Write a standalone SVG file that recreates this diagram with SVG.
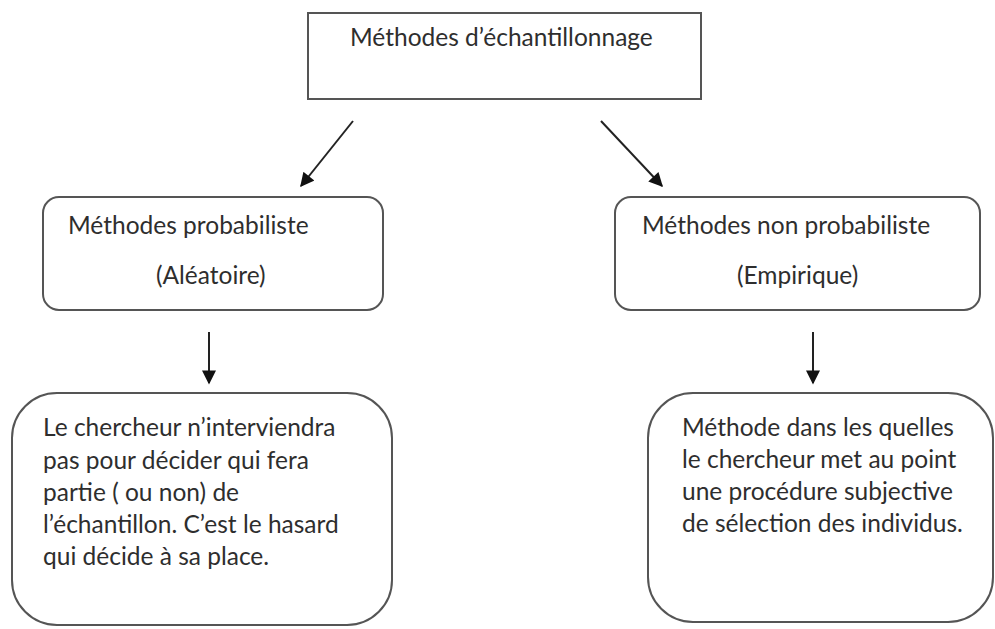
<svg xmlns="http://www.w3.org/2000/svg" width="995" height="629" viewBox="0 0 995 629">
<defs>
<style>
.box{fill:#fff;stroke:#555;stroke-width:2}
.t{font-family:Lato,"Open Sans",sans-serif;font-size:24.5px;fill:#2e2e2e}
.c{stroke:#222;stroke-width:2;fill:none}
</style>
<marker id="ah" viewBox="0 0 10 10" refX="9" refY="5" markerWidth="15" markerHeight="14" markerUnits="userSpaceOnUse" orient="auto">
<path d="M0,0 L10,5 L0,10 z" fill="#111"/>
</marker>
</defs>
<rect width="995" height="629" fill="#fff"/>
<g id="connectors">
<line class="c" x1="353" y1="121" x2="301" y2="186" marker-end="url(#ah)"/>
<line class="c" x1="601" y1="121" x2="662" y2="186" marker-end="url(#ah)"/>
<line class="c" x1="209" y1="332" x2="209" y2="383" marker-end="url(#ah)"/>
<line class="c" x1="813" y1="332" x2="813" y2="383" marker-end="url(#ah)"/>
</g>
<g id="root">
<rect class="box" x="308" y="13" width="393" height="86"/>
<text class="t" x="350" y="46">Méthodes d’échantillonnage</text>
</g>
<g id="proba">
<rect class="box" x="43" y="197" width="340" height="113" rx="16"/>
<text class="t" x="68" y="234">Méthodes probabiliste</text>
<text class="t" x="156" y="284">(Aléatoire)</text>
</g>
<g id="nonproba">
<rect class="box" x="615" y="197" width="365" height="113" rx="16"/>
<text class="t" x="642" y="234">Méthodes non probabiliste</text>
<text class="t" x="737" y="284">(Empirique)</text>
</g>
<g id="desc-proba">
<rect class="box" x="12" y="393" width="380" height="232" rx="45"/>
<text class="t" x="43" y="436">Le chercheur n’interviendra</text>
<text class="t" x="43" y="469">pas pour décider qui fera</text>
<text class="t" x="43" y="501">partie ( ou non) de</text>
<text class="t" x="43" y="533">l’échantillon. C’est le hasard</text>
<text class="t" x="43" y="565">qui décide à sa place.</text>
</g>
<g id="desc-nonproba">
<rect class="box" x="648" y="393" width="345" height="229" rx="45"/>
<text class="t" x="682" y="436">Méthode dans les quelles</text>
<text class="t" x="682" y="468">le chercheur met au point</text>
<text class="t" x="682" y="500">une procédure subjective</text>
<text class="t" x="682" y="532">de sélection des individus.</text>
</g>
</svg>
